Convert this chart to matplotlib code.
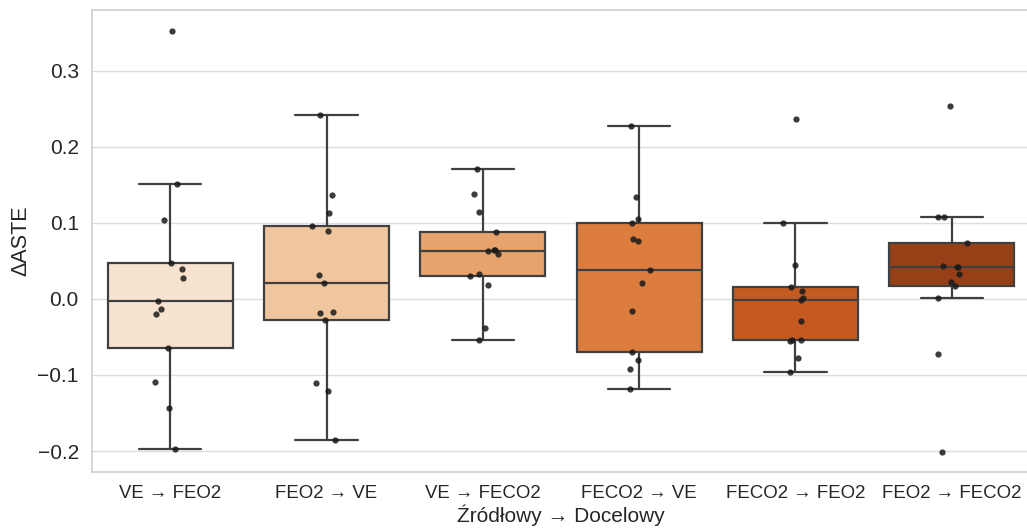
import numpy as np
import pandas as pd
import seaborn as sns
from matplotlib import pyplot as plt

# transfer directions (source -> target)
categories = ["VE → FEO2", "FEO2 → VE", "VE → FECO2", "FECO2 → VE", "FECO2 → FEO2", "FEO2 → FECO2"]

# delta ASTE per run
ve_feo2 = [0.352, 0.151, 0.1035, 0.047, 0.039, 0.028, -0.003, -0.0136, -0.020, -0.065, -0.109, -0.144, -0.197]
feo2_ve = [0.242, 0.1364, 0.113, 0.096, 0.0895, 0.031, 0.0215, -0.018, -0.0167, -0.0276, -0.111, -0.1206, -0.186]
ve_feco2 = [0.171, 0.1377, 0.1149, 0.0877, 0.0596, 0.0627, 0.0645, 0.065, 0.0333, 0.0303, 0.0184, -0.0386, -0.0544]
feco2_ve = [0.2276, 0.1338, 0.1057, 0.100, 0.079, 0.0768, 0.038, 0.0206, -0.0158, -0.0702, -0.0803, -0.0925, -0.1184]
feco2_feo2 = [0.2368, 0.1004, 0.0451, 0.0162, 0.0105, 0.0017, -0.0009, -0.0294, -0.0535, -0.0535, -0.0557, -0.078, -0.096]
feo2_feco2 = [0.2544, 0.1079, 0.1075, 0.0741, 0.0434, 0.0425, 0.0417, 0.0329, 0.0228, 0.0171, 0.0017, -0.072, -0.201]

groups = [ve_feo2, feo2_ve, ve_feco2, feco2_ve, feco2_feo2, feo2_feco2]
df = pd.DataFrame({
    "pair": np.repeat(categories, [len(g) for g in groups]),
    "delta": np.concatenate(groups),
})

sns.set_theme(style="whitegrid", rc={"grid.color": "#dddddd", "axes.edgecolor": "#d0d0d0"})
plt.rcParams['font.family'] = ['Liberation Sans', 'DejaVu Sans']

fig = plt.figure(figsize=(10.27, 5.29), dpi=100)
ax = fig.add_axes([92 / 1027, 57 / 529, 938 / 1027, 462 / 529])

sns.boxplot(data=df, x="pair", y="delta", hue="pair", palette="Oranges", legend=False,
            showfliers=False, width=0.8, linewidth=1.6, linecolor="0.25", ax=ax)
np.random.seed(3)
sns.stripplot(data=df, x="pair", y="delta", color="#1a1a1a", alpha=0.85, size=4.5,
              jitter=0.1, ax=ax)

ax.set_ylim(-0.2276, 0.380)
ax.set_xlim(-0.5, 5.5)
ax.set_yticks([-0.2, -0.1, 0.0, 0.1, 0.2, 0.3])
ax.set_yticklabels(["−0.2", "−0.1", "0.0", "0.1", "0.2", "0.3"])
ax.tick_params(axis="y", labelsize=15)
ax.tick_params(axis="x", labelsize=13.4)
ax.set_xlabel("Źródłowy → Docelowy", fontsize=15, labelpad=2)
ax.set_ylabel("ΔASTE", fontsize=15.5)

fig.savefig("out.png", dpi=100)
